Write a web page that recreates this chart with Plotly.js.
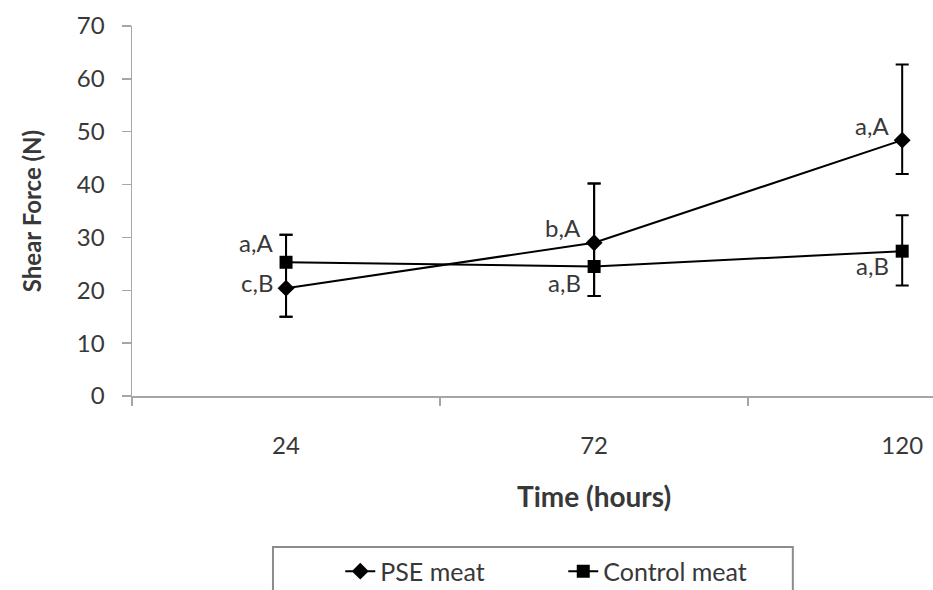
<!DOCTYPE html>
<html>
<head>
<meta charset="utf-8">
<script src="https://cdn.plot.ly/plotly-3.0.1.min.js"></script>
<style>html,body{margin:0;padding:0;background:#fff;}#chart{width:933px;height:590px;}</style>
</head>
<body>
<div id="chart"></div>
<script>
// ---- data ----
const categories = ['24', '72', '120'];
const pseMean = [20.4, 29.0, 48.4];
const psePlus = [10.1, 11.2, 14.3];
const pseMinus = [5.4, 10.1, 6.4];
const ctrlMean = [25.3, 24.5, 27.4];
const ctrlPlus = [5.2, 15.7, 6.8];
const ctrlMinus = [10.3, 5.6, 6.5];
const pseLabels = ['c,B', 'b,A', 'a,A'];
const ctrlLabels = ['a,A', 'a,B', 'a,B'];
const seriesNames = ['PSE meat', 'Control meat'];
const yTicks = [0, 10, 20, 30, 40, 50, 60, 70];

// ---- style ----
const FONT = 'Lato, "Open Sans", sans-serif';
const TXT = '#383838';
const AX = '#a6a6a6';
const pseShift = [6, 15, 15];
const ctrlShift = [20, -16, -14];
const xIdx = categories.map((c, i) => i);

const errStyle = {type: 'data', symmetric: false, color: '#000', thickness: 2, width: 6.5};

const traces = [
  {
    x: xIdx, y: pseMean, name: seriesNames[0], type: 'scatter', mode: 'lines+markers',
    line: {color: '#000', width: 2},
    marker: {symbol: 'diamond', size: 13, color: '#000'},
    error_y: Object.assign({array: psePlus, arrayminus: pseMinus}, errStyle)
  },
  {
    x: xIdx, y: ctrlMean, name: seriesNames[1], type: 'scatter', mode: 'lines+markers',
    line: {color: '#000', width: 2},
    marker: {symbol: 'square', size: 13, color: '#000'},
    error_y: Object.assign({array: ctrlPlus, arrayminus: ctrlMinus}, errStyle)
  }
];

const annotations = [];
xIdx.forEach(i => {
  annotations.push({x: i, y: pseMean[i], xref: 'x', yref: 'y', text: pseLabels[i], showarrow: false,
    xanchor: 'right', yanchor: 'middle', xshift: -11, yshift: pseShift[i], font: {family: FONT, size: 24, color: TXT}});
  annotations.push({x: i, y: ctrlMean[i], xref: 'x', yref: 'y', text: ctrlLabels[i], showarrow: false,
    xanchor: 'right', yanchor: 'middle', xshift: -11, yshift: ctrlShift[i], font: {family: FONT, size: 24, color: TXT}});
});
annotations.push({x: 1, y: -0.27, xref: 'x', yref: 'paper', text: '<b>Time (hours)</b>', showarrow: false,
  xanchor: 'center', yanchor: 'middle', font: {family: FONT, size: 28, color: TXT}});

const layout = {
  width: 933, height: 590,
  margin: {l: 132, r: 0, t: 26, b: 194, autoexpand: false},
  paper_bgcolor: '#fff', plot_bgcolor: '#fff',
  font: {family: FONT, color: TXT},
  showlegend: true,
  xaxis: {
    range: [-0.5, 2.1], tickvals: xIdx, ticktext: categories, ticks: '',
    showline: true, linecolor: AX, linewidth: 1.5, showgrid: false, zeroline: false,
    tickfont: {family: FONT, size: 24, color: TXT}, ticklabelstandoff: 28,
    minor: {tickvals: [-0.5, 0.5, 1.5], ticks: 'outside', ticklen: 8, tickcolor: AX, tickwidth: 1.5, showgrid: false}
  },
  yaxis: {
    range: [0, 70], tickvals: yTicks, ticks: 'outside', ticklen: 9, tickcolor: AX, tickwidth: 1.5,
    showline: true, linecolor: AX, linewidth: 1.5, showgrid: false, zeroline: false,
    tickfont: {family: FONT, size: 24, color: TXT}, ticklabelstandoff: 12,
    title: {text: '<b>Shear Force (N)</b>', font: {family: FONT, size: 24, color: TXT}, standoff: 28}
  },
  legend: {
    orientation: 'h', x: 0.26, xanchor: 'left', y: -0.474, yanchor: 'middle',
    bgcolor: 'rgba(0,0,0,0)', borderwidth: 0, font: {family: FONT, size: 25, color: TXT},
    itemclick: false, entrywidth: 178
  },
  shapes: [{type: 'rect', xref: 'paper', yref: 'paper', x0: 0.176, x1: 0.825, y0: -0.408, y1: -0.6,
    line: {color: '#8c8c8c', width: 2}, fillcolor: 'rgba(0,0,0,0)'}],
  annotations: annotations
};

Plotly.newPlot('chart', traces, layout, {displayModeBar: false, staticPlot: true});
</script>
</body>
</html>
